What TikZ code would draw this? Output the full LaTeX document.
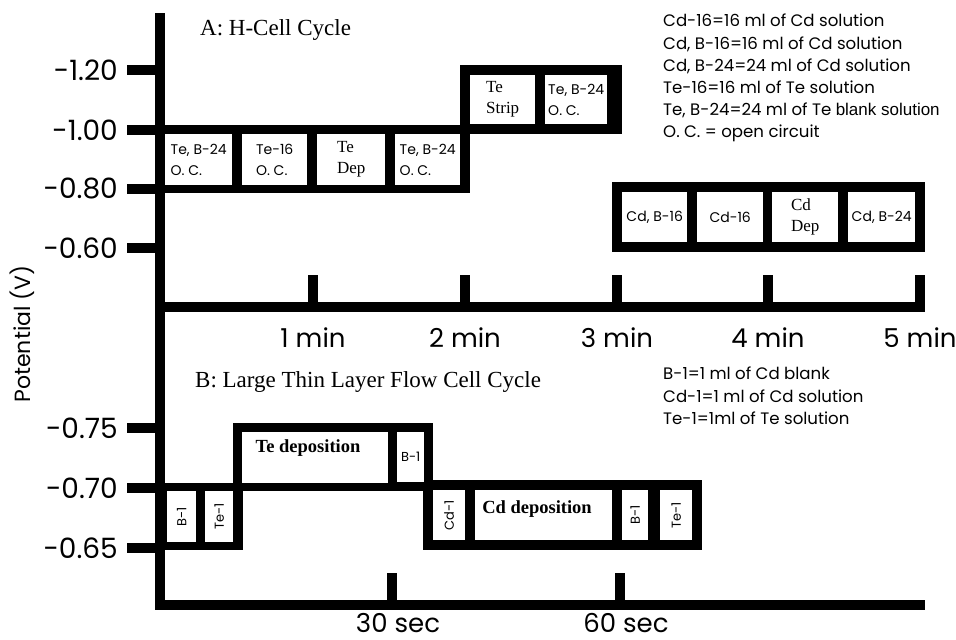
\documentclass[tikz,border=0pt]{standalone}
\usepackage{fontspec}
\setmainfont{Liberation Serif}
\newfontfamily\gothic{Poppins}
\newfontfamily\plainsans{Liberation Sans}
\newcommand\fsz[2]{\fontsize{#1}{#2}\selectfont}
\tikzset{
 ax/.style={line width=10pt},
 cell/.style 2 args={fill=white,inner sep=0pt,anchor=north west,align=left,minimum width=#1,minimum height=#2,font=\gothic\fsz{14}{21}},
 rmcell/.style={font=\rmfamily\fsz{17}{21}},
 vcell/.style={font=\gothic\fsz{13}{15}},
 deptext/.style={inner sep=0pt,font=\rmfamily\bfseries\fsz{18.5}{22}},
 leg/.style={anchor=north west,inner sep=0pt,align=left,font=\gothic\fsz{16.6}{22.2}},
 ttl/.style={anchor=base west,inner sep=0pt,font=\rmfamily\fsz{23}{26}},
 tlab/.style={anchor=base,inner sep=0pt,font=\gothic\fsz{26}{30}},
 ylab/.style={anchor=east,inner sep=0pt,font=\gothic\fsz{28}{30}}
}
\begin{document}
\begin{tikzpicture}[x=1pt,y=-1pt,font=\gothic]
\useasboundingbox (0,0) rectangle (956,640);
\draw[ax] (160,13)--(160,610);
\draw[ax] (160,307)--(925,307);\draw[ax] (160,605)--(925,605);
\foreach \x/\t in {313/1,465/2,617/3,768/4,920/5}{\draw[ax] (\x,275)--(\x,307);\node[tlab] (min\t) at (\x,347){\t\ min};}
\foreach \x/\t in {392/30,620/60}{\draw[ax] (\x,573)--(\x,605);\node[tlab] (sec\t) at (\x+6,632){\t\ sec};}
\foreach \y/\t in {70/-1.20,130/-1.00,189/-0.80,248/-0.60,428/-0.75,488/-0.70,548/-0.65}{\draw[ax] (127,\y)--(160,\y);\node[ylab] (v\y) at (118,\y){\t};}
\fill (160,125) rectangle (470,193);\fill (460,65) rectangle (622,134);\fill (612,182) rectangle (925,252);
\fill (160,483) rectangle (243,550);\fill (233,423) rectangle (433,491);\fill (423,480) rectangle (702,550);
\node[cell={67}{51}] (a1) at (165,134){Te, B-24\\O. C.};\node[cell={65}{51}] (a2) at (242,134){Te-16\\O. C.};
\node[cell={68}{51},rmcell] (a3) at (317,134){Te\\Dep};\node[cell={65}{51}] (a4) at (395,134){Te, B-24\\O. C.};
\node[cell={65}{49},rmcell] (a5) at (470,75){Te\\Strip};\node[cell={62}{49}] (a6) at (545,75){Te, B-24\\O. C.};
\node[cell={65}{50}] (a7) at (622,192){Cd, B-16};\node[cell={66}{50}] (a8) at (697,192){Cd-16};
\node[cell={66}{50},rmcell] (a9) at (772,192){Cd\\Dep};\node[cell={67}{50}] (a10) at (848,192){Cd, B-24};
\node[cell={29}{51},vcell] (b1) at (167,491){\rotatebox{90}{B-1}};\node[cell={28}{51},vcell] (b2) at (205,491){\rotatebox{90}{Te-1}};
\node[cell={146}{51}] (b3) at (242,432){};\node[cell={27}{50},vcell] (b4) at (397,432){B-1};
\node[cell={32}{50},vcell] (b5) at (433,490){\rotatebox{90}{Cd-1}};\node[cell={137}{50}] (b6) at (475,490){};
\node[cell={26}{50},vcell] (b7) at (622,490){\rotatebox{90}{B-1}};\node[cell={32}{50},vcell] (b8) at (660,490){\rotatebox{90}{Te-1}};
\node[deptext] (tedep) at (308,448){Te deposition};\node[deptext] (cddep) at (537,509){Cd deposition};
\node[leg] (legA) at (663,14){Cd-16=16 ml of Cd solution\\Cd, B-16=16 ml of Cd solution\\Cd, B-24=24 ml of Cd solution\\Te-16=16 ml of Te solution\\Te, B-24=24 ml of Te {\plainsans\fsz{17}{22.2}blank solution}\\O. C. = open circuit};
\node[leg] (legB) at (663,367){B-1=1 ml of Cd blank\\Cd-1=1 ml of Cd solution\\Te-1=1ml of Te solution};
\node[ttl] (titA) at (200,35){A: H-Cell Cycle};\node[ttl] (titB) at (195,387){B: Large Thin Layer Flow Cell Cycle};
\node[rotate=90,font=\gothic\fsz{22}{26}] (pot) at (22,334){Potential (V)};
\end{tikzpicture}
\end{document}
